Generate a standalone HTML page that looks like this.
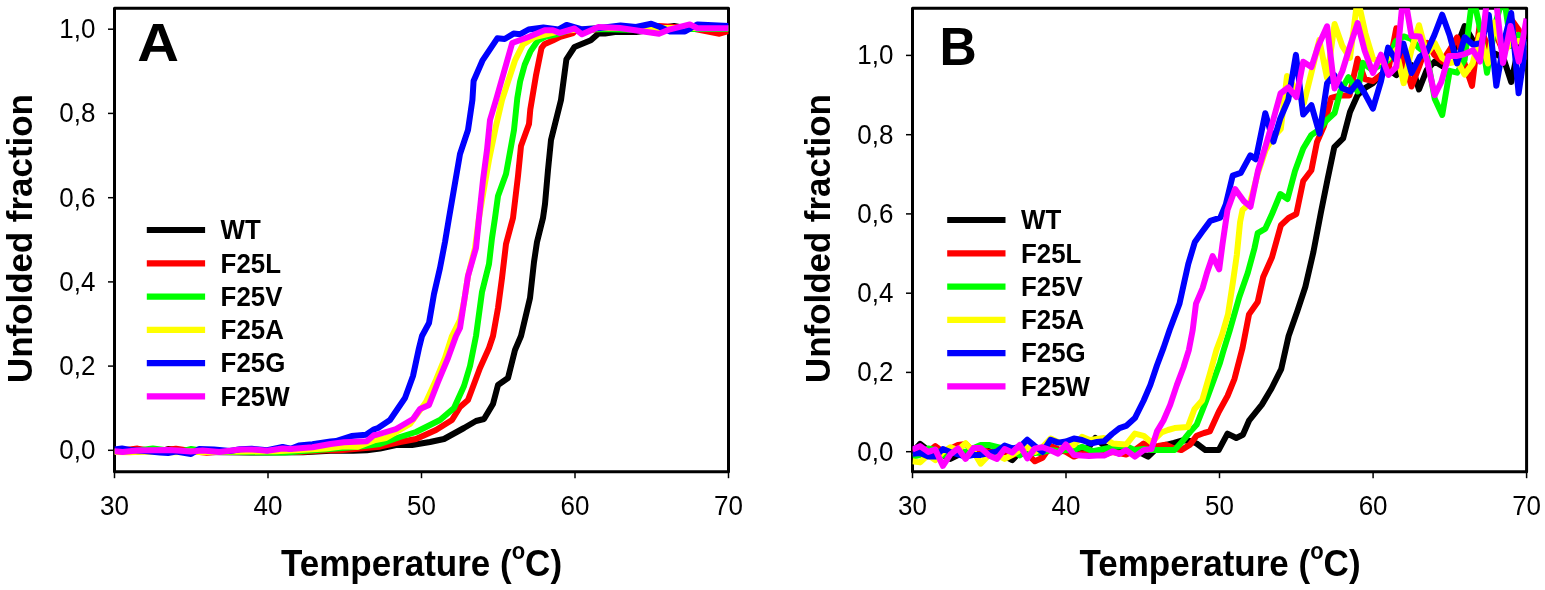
<!DOCTYPE html>
<html><head><meta charset="utf-8"><style>
html,body{margin:0;padding:0;background:#fff;}
svg{display:block;}
.tk{font-family:"Liberation Sans",Arial,sans-serif;font-size:26px;fill:#000;}
.lg{font-family:"Liberation Sans",Arial,sans-serif;font-size:25.5px;font-weight:bold;fill:#000;}
.lt{font-family:"Liberation Sans",Arial,sans-serif;font-size:54px;font-weight:bold;fill:#000;}
.ax{font-family:"Liberation Sans",Arial,sans-serif;font-size:35px;font-weight:bold;fill:#000;}
.sup{font-size:22px;}
.yl{font-size:34.5px;}
</style></head><body>
<svg width="1545" height="590" viewBox="0 0 1545 590">
<rect width="1545" height="590" fill="#fff"/>
<rect x="114.5" y="8.2" width="614.00" height="463.50" fill="none" stroke="#000" stroke-width="3" stroke-linejoin="round"/>
<line x1="108.0" y1="450.3" x2="114.5" y2="450.3" stroke="#000" stroke-width="1.5"/>
<text transform="translate(95.5,459.1) scale(1,1.05)" text-anchor="end" class="tk">0,0</text>
<line x1="108.0" y1="366.1" x2="114.5" y2="366.1" stroke="#000" stroke-width="1.5"/>
<text transform="translate(95.5,374.9) scale(1,1.05)" text-anchor="end" class="tk">0,2</text>
<line x1="108.0" y1="281.9" x2="114.5" y2="281.9" stroke="#000" stroke-width="1.5"/>
<text transform="translate(95.5,290.7) scale(1,1.05)" text-anchor="end" class="tk">0,4</text>
<line x1="108.0" y1="197.7" x2="114.5" y2="197.7" stroke="#000" stroke-width="1.5"/>
<text transform="translate(95.5,206.5) scale(1,1.05)" text-anchor="end" class="tk">0,6</text>
<line x1="108.0" y1="113.4" x2="114.5" y2="113.4" stroke="#000" stroke-width="1.5"/>
<text transform="translate(95.5,122.2) scale(1,1.05)" text-anchor="end" class="tk">0,8</text>
<line x1="108.0" y1="29.2" x2="114.5" y2="29.2" stroke="#000" stroke-width="1.5"/>
<text transform="translate(95.5,38.0) scale(1,1.05)" text-anchor="end" class="tk">1,0</text>
<line x1="114.5" y1="471.7" x2="114.5" y2="478.2" stroke="#000" stroke-width="1.5"/>
<text transform="translate(114.5,515.0) scale(1,1.05)" text-anchor="middle" class="tk">30</text>
<line x1="268.0" y1="471.7" x2="268.0" y2="478.2" stroke="#000" stroke-width="1.5"/>
<text transform="translate(268.0,515.0) scale(1,1.05)" text-anchor="middle" class="tk">40</text>
<line x1="421.5" y1="471.7" x2="421.5" y2="478.2" stroke="#000" stroke-width="1.5"/>
<text transform="translate(421.5,515.0) scale(1,1.05)" text-anchor="middle" class="tk">50</text>
<line x1="575.0" y1="471.7" x2="575.0" y2="478.2" stroke="#000" stroke-width="1.5"/>
<text transform="translate(575.0,515.0) scale(1,1.05)" text-anchor="middle" class="tk">60</text>
<line x1="728.5" y1="471.7" x2="728.5" y2="478.2" stroke="#000" stroke-width="1.5"/>
<text transform="translate(728.5,515.0) scale(1,1.05)" text-anchor="middle" class="tk">70</text>
<clipPath id="ca"><rect x="114.5" y="8.2" width="614.00" height="463.50"/></clipPath>
<g clip-path="url(#ca)" fill="none" stroke-width="6.0" stroke-linejoin="round">
<polyline stroke="#000000" points="114.5,452.0 137.5,451.5 145.2,451.0 160.5,451.5 168.2,449.0 183.6,451.5 206.6,452.0 250.0,452.5 303.0,452.2 330.6,450.8 353.0,450.8 366.8,450.3 380.0,448.5 396.0,445.0 412.0,445.0 430.0,442.0 444.0,439.0 464.0,428.0 476.0,421.0 484.0,419.0 493.0,404.0 498.0,385.0 508.0,378.0 515.0,350.0 521.0,336.0 530.0,298.0 534.0,262.0 537.0,242.0 543.0,218.0 545.0,204.0 548.0,170.0 551.0,140.0 557.0,116.0 561.0,100.0 566.4,59.3 574.5,47.0 590.8,40.3 598.5,33.5 605.0,33.5 615.0,32.0 636.0,32.0 650.0,30.0 674.0,26.0 690.0,29.0 710.0,28.0 728.5,29.3"/>
<polyline stroke="#ff0000" points="114.5,451.0 129.8,449.5 137.5,448.6 145.2,450.0 160.5,450.5 175.9,448.8 191.2,451.0 206.6,452.7 221.9,451.5 240.0,451.5 250.0,451.5 300.0,452.0 326.0,450.3 340.0,450.3 374.0,447.2 380.0,446.7 400.0,442.0 416.0,439.0 436.0,430.0 452.0,420.0 460.0,407.0 468.0,400.0 480.0,368.0 489.0,348.0 493.0,336.0 498.0,308.0 502.0,278.0 506.0,244.0 513.0,218.0 518.0,176.0 521.0,146.0 529.0,124.0 530.3,109.5 535.9,75.9 541.5,48.0 544.3,44.2 552.7,40.5 560.2,36.8 573.2,33.0 575.0,31.0 600.0,29.0 630.0,29.0 659.0,26.0 690.0,28.0 719.5,33.7 728.5,31.0"/>
<polyline stroke="#00ff00" points="114.5,451.5 137.5,450.5 152.9,448.6 168.2,450.5 183.6,451.0 191.2,449.0 206.6,451.5 222.0,452.0 240.0,452.0 267.0,452.6 285.0,452.6 336.0,448.5 357.8,446.7 380.0,444.0 400.0,437.0 416.0,432.0 440.0,420.0 454.0,408.0 464.0,386.0 470.0,366.0 476.0,336.0 482.0,292.0 489.0,264.0 492.0,238.0 495.0,218.0 498.0,196.0 506.0,174.0 514.0,130.0 517.3,98.3 520.1,81.5 524.7,64.7 530.3,51.7 537.8,40.5 545.2,36.8 554.6,34.9 570.0,30.0 600.0,29.0 640.0,30.0 680.0,29.0 728.5,29.0"/>
<polyline stroke="#ffff00" points="114.5,452.0 129.8,452.3 145.2,451.5 175.9,452.3 191.2,451.5 202.6,452.3 222.0,451.5 240.0,451.5 276.0,451.2 326.0,448.5 344.0,446.3 357.8,446.7 374.1,440.4 386.0,438.0 410.0,424.0 426.0,402.0 436.0,380.0 445.0,358.0 452.0,336.0 460.0,320.0 464.0,302.0 468.0,276.0 475.0,248.0 479.0,218.0 482.0,200.0 489.0,160.0 496.0,126.0 502.0,100.0 514.9,60.7 523.0,44.4 535.0,37.0 560.0,31.0 600.0,28.0 650.0,28.0 728.5,28.0"/>
<polyline stroke="#0000ff" points="114.5,449.5 122.0,448.5 130.0,450.0 145.0,451.0 160.0,452.5 168.0,453.0 176.0,451.5 191.0,454.0 199.0,449.0 214.0,449.5 230.0,451.0 240.0,449.3 251.8,448.8 267.2,450.2 282.6,447.0 290.7,448.8 298.9,445.6 312.5,444.3 330.6,441.4 336.0,441.1 351.5,436.1 366.0,434.8 374.1,429.3 378.0,428.0 390.0,420.0 405.0,398.0 413.0,376.0 419.0,348.0 422.0,336.0 429.0,323.0 434.0,294.0 440.0,268.0 445.0,242.0 449.0,218.0 460.0,154.0 468.0,130.0 472.4,100.0 473.6,81.0 482.4,60.7 497.3,38.3 504.7,39.0 513.6,33.6 520.3,34.2 528.5,29.5 543.4,27.5 558.3,29.5 566.6,24.9 582.0,29.3 600.0,28.0 620.5,25.5 636.0,27.0 651.3,23.8 660.0,27.0 670.0,31.5 685.0,31.5 697.5,24.4 728.5,26.0"/>
<polyline stroke="#ff00ff" points="114.5,451.2 122.6,451.9 136.9,450.4 152.1,450.2 168.9,450.0 177.3,450.4 190.8,451.6 202.6,450.6 219.4,451.9 240.0,449.4 251.8,449.4 267.2,450.8 282.6,448.5 290.7,449.0 312.5,447.2 330.6,444.0 344.0,442.2 366.8,441.3 374.1,434.9 376.0,435.0 396.0,429.0 413.0,419.0 420.0,409.0 429.0,405.0 438.0,382.0 448.0,358.0 456.0,336.0 460.0,328.0 464.0,302.0 468.0,276.0 476.0,248.0 479.0,218.0 483.0,180.0 487.0,150.0 490.0,120.0 496.0,100.0 512.2,43.0 528.5,37.0 544.7,30.2 552.9,30.2 559.7,32.9 574.6,28.5 582.0,34.3 598.5,27.1 620.0,28.0 643.6,31.5 659.0,33.7 670.0,29.3 689.8,24.4 697.5,28.2 728.5,28.2"/>
</g>
<text transform="translate(137.2,60.7) scale(1.07,1)" class="lt">A</text>
<line x1="146.8" y1="230.0" x2="205.1" y2="230.0" stroke="#000000" stroke-width="6.2"/>
<text transform="translate(220.6,239.3) scale(1.015,1.075)" class="lg">WT</text>
<line x1="146.8" y1="263.3" x2="205.1" y2="263.3" stroke="#ff0000" stroke-width="6.2"/>
<text transform="translate(220.6,272.6) scale(1.015,1.075)" class="lg">F25L</text>
<line x1="146.8" y1="296.6" x2="205.1" y2="296.6" stroke="#00ff00" stroke-width="6.2"/>
<text transform="translate(220.6,305.9) scale(1.015,1.075)" class="lg">F25V</text>
<line x1="146.8" y1="329.8" x2="205.1" y2="329.8" stroke="#ffff00" stroke-width="6.2"/>
<text transform="translate(220.6,339.1) scale(1.015,1.075)" class="lg">F25A</text>
<line x1="146.8" y1="363.1" x2="205.1" y2="363.1" stroke="#0000ff" stroke-width="6.2"/>
<text transform="translate(220.6,372.4) scale(1.015,1.075)" class="lg">F25G</text>
<line x1="146.8" y1="396.4" x2="205.1" y2="396.4" stroke="#ff00ff" stroke-width="6.2"/>
<text transform="translate(220.6,405.7) scale(1.015,1.075)" class="lg">F25W</text>
<rect x="912.5" y="8.2" width="614.10" height="463.50" fill="none" stroke="#000" stroke-width="3" stroke-linejoin="round"/>
<line x1="906.0" y1="451.7" x2="912.5" y2="451.7" stroke="#000" stroke-width="1.5"/>
<text transform="translate(893.5,460.5) scale(1,1.05)" text-anchor="end" class="tk">0,0</text>
<line x1="906.0" y1="372.4" x2="912.5" y2="372.4" stroke="#000" stroke-width="1.5"/>
<text transform="translate(893.5,381.2) scale(1,1.05)" text-anchor="end" class="tk">0,2</text>
<line x1="906.0" y1="293.2" x2="912.5" y2="293.2" stroke="#000" stroke-width="1.5"/>
<text transform="translate(893.5,302.0) scale(1,1.05)" text-anchor="end" class="tk">0,4</text>
<line x1="906.0" y1="213.9" x2="912.5" y2="213.9" stroke="#000" stroke-width="1.5"/>
<text transform="translate(893.5,222.7) scale(1,1.05)" text-anchor="end" class="tk">0,6</text>
<line x1="906.0" y1="134.7" x2="912.5" y2="134.7" stroke="#000" stroke-width="1.5"/>
<text transform="translate(893.5,143.5) scale(1,1.05)" text-anchor="end" class="tk">0,8</text>
<line x1="906.0" y1="55.4" x2="912.5" y2="55.4" stroke="#000" stroke-width="1.5"/>
<text transform="translate(893.5,64.2) scale(1,1.05)" text-anchor="end" class="tk">1,0</text>
<line x1="912.5" y1="471.7" x2="912.5" y2="478.2" stroke="#000" stroke-width="1.5"/>
<text transform="translate(912.5,515.0) scale(1,1.05)" text-anchor="middle" class="tk">30</text>
<line x1="1066.0" y1="471.7" x2="1066.0" y2="478.2" stroke="#000" stroke-width="1.5"/>
<text transform="translate(1066.0,515.0) scale(1,1.05)" text-anchor="middle" class="tk">40</text>
<line x1="1219.5" y1="471.7" x2="1219.5" y2="478.2" stroke="#000" stroke-width="1.5"/>
<text transform="translate(1219.5,515.0) scale(1,1.05)" text-anchor="middle" class="tk">50</text>
<line x1="1373.1" y1="471.7" x2="1373.1" y2="478.2" stroke="#000" stroke-width="1.5"/>
<text transform="translate(1373.1,515.0) scale(1,1.05)" text-anchor="middle" class="tk">60</text>
<line x1="1526.6" y1="471.7" x2="1526.6" y2="478.2" stroke="#000" stroke-width="1.5"/>
<text transform="translate(1526.6,515.0) scale(1,1.05)" text-anchor="middle" class="tk">70</text>
<clipPath id="cb"><rect x="912.5" y="8.2" width="614.10" height="463.50"/></clipPath>
<g clip-path="url(#cb)" fill="none" stroke-width="6.0" stroke-linejoin="round">
<polyline stroke="#000000" points="912.5,452.0 920.1,443.8 928.0,450.0 935.6,452.0 943.0,455.0 950.4,458.9 958.0,455.0 966.0,452.0 973.7,450.0 981.0,453.0 989.0,451.0 997.0,455.0 1004.6,456.0 1012.2,460.1 1020.0,452.0 1027.5,449.0 1035.0,451.0 1043.0,454.0 1050.6,449.0 1058.0,452.0 1066.0,450.0 1073.9,446.1 1081.6,451.0 1089.0,447.0 1095.3,438.0 1104.5,446.0 1112.0,450.0 1120.0,452.0 1127.5,449.0 1135.0,451.0 1143.0,454.0 1148.1,456.7 1158.0,447.0 1166.0,445.0 1174.0,443.0 1183.4,440.2 1190.0,441.0 1196.6,443.5 1205.4,450.1 1212.0,450.0 1218.7,450.1 1227.5,433.6 1236.3,438.0 1242.9,434.7 1249.0,420.7 1261.9,404.6 1271.5,388.5 1281.2,369.2 1288.6,336.0 1297.3,311.2 1305.3,287.0 1313.4,252.0 1321.0,212.0 1327.6,179.2 1334.3,147.2 1343.1,138.4 1350.0,112.0 1357.6,95.0 1365.0,88.0 1372.9,83.2 1380.7,75.0 1388.1,69.0 1396.3,75.1 1403.7,60.0 1411.4,65.0 1419.0,89.5 1426.7,70.0 1434.7,61.5 1442.0,66.0 1449.7,55.0 1457.4,45.0 1464.6,26.1 1472.7,40.0 1480.4,48.0 1488.1,52.0 1495.8,54.0 1503.4,58.0 1511.2,82.0 1518.8,47.0 1526.6,55.0"/>
<polyline stroke="#ff0000" points="912.5,452.0 920.0,448.0 928.0,452.0 935.3,446.1 943.0,452.0 950.0,449.0 958.0,445.0 966.0,444.0 973.7,452.0 981.0,450.0 989.0,452.0 997.0,453.0 1004.6,453.0 1012.0,455.0 1020.0,453.0 1027.5,454.0 1034.9,461.3 1042.5,457.8 1050.6,446.0 1058.0,449.0 1066.0,452.0 1073.9,456.6 1082.0,453.4 1090.0,455.0 1097.0,454.0 1104.0,455.0 1112.0,452.0 1119.0,453.0 1126.1,454.5 1135.0,450.0 1143.7,443.5 1150.0,447.0 1158.0,446.0 1165.8,444.6 1173.0,448.0 1181.2,450.1 1190.0,444.6 1196.6,435.8 1204.0,433.0 1209.8,431.4 1218.7,412.0 1227.5,396.0 1234.5,378.8 1242.5,348.0 1249.0,314.4 1257.7,302.0 1263.2,277.0 1272.0,257.3 1280.9,225.3 1288.6,218.0 1296.3,214.0 1303.2,181.0 1311.4,170.2 1317.0,142.0 1324.0,126.0 1331.2,98.0 1340.3,95.4 1349.5,95.4 1357.6,58.8 1364.7,79.1 1372.9,81.2 1380.7,75.0 1388.3,70.0 1396.3,28.3 1403.7,60.0 1411.5,86.5 1419.0,67.0 1427.3,42.9 1434.4,55.0 1442.2,61.5 1449.7,50.0 1457.1,37.3 1465.0,65.0 1472.0,85.8 1479.5,26.1 1488.0,47.0 1495.8,34.0 1503.4,52.0 1511.0,19.0 1518.8,30.0 1526.6,59.7"/>
<polyline stroke="#00ff00" points="912.5,456.6 920.0,455.0 928.3,448.4 935.5,450.0 942.9,455.4 950.4,450.0 958.0,451.0 966.0,452.0 973.7,448.0 980.7,445.0 988.9,445.0 997.0,447.0 1004.6,449.0 1012.2,450.0 1019.8,455.4 1027.5,450.0 1035.0,453.0 1042.5,452.0 1050.6,450.0 1058.0,451.0 1066.0,450.0 1074.0,450.0 1082.0,446.8 1093.0,451.2 1104.0,449.0 1115.1,446.8 1126.0,446.0 1134.9,450.1 1143.7,449.0 1151.0,450.0 1159.2,450.1 1166.8,450.0 1174.6,450.1 1183.4,440.2 1190.0,432.0 1196.6,424.8 1205.4,402.7 1214.3,378.5 1220.0,362.7 1223.1,352.0 1229.7,330.5 1239.3,297.0 1247.8,272.7 1254.4,248.5 1257.7,233.1 1265.4,228.6 1272.0,214.0 1280.3,194.0 1287.5,199.0 1295.0,171.0 1303.2,148.5 1311.4,134.9 1319.5,129.5 1327.0,120.0 1334.6,113.0 1340.3,91.4 1348.5,77.1 1357.6,91.4 1363.0,62.9 1372.0,70.0 1380.7,65.0 1388.3,60.0 1396.0,41.0 1403.7,36.4 1411.4,39.0 1419.0,48.0 1426.7,54.0 1434.7,98.8 1442.2,115.0 1449.7,70.8 1457.1,72.7 1464.6,60.0 1472.7,-5.0 1480.4,30.0 1487.0,72.7 1495.8,22.0 1503.7,-5.0 1511.0,46.0 1518.6,35.0 1526.6,50.0"/>
<polyline stroke="#ffff00" points="912.5,461.3 920.1,462.4 928.0,455.0 935.3,460.1 943.0,452.0 950.4,447.3 958.0,450.0 965.6,443.2 973.7,452.0 980.7,463.6 989.0,455.0 997.0,455.0 1004.6,458.9 1012.0,455.0 1020.0,450.0 1027.3,447.3 1035.0,452.0 1042.5,447.0 1050.6,438.5 1058.0,442.0 1066.0,447.0 1074.0,445.0 1082.0,436.9 1090.0,440.0 1097.0,439.0 1104.1,438.0 1112.9,443.5 1119.0,444.0 1126.1,444.6 1134.9,433.6 1143.7,435.8 1151.4,442.4 1161.4,432.5 1168.0,430.0 1174.6,428.1 1181.0,427.5 1187.8,427.0 1194.4,409.3 1202.1,400.5 1209.8,374.1 1216.5,349.8 1222.0,335.0 1228.0,314.4 1232.9,282.2 1236.8,255.1 1240.1,222.0 1242.5,210.0 1250.0,203.0 1257.9,173.0 1265.6,150.0 1273.2,137.0 1280.8,129.0 1287.0,76.0 1295.0,88.0 1303.9,103.0 1311.6,72.0 1319.3,40.0 1327.0,78.0 1334.6,24.0 1342.3,46.0 1350.0,57.8 1357.6,-2.0 1365.3,33.0 1373.0,58.8 1380.7,62.0 1388.3,58.0 1396.0,50.0 1403.7,83.2 1411.4,50.0 1419.0,25.2 1426.7,54.0 1434.7,42.9 1442.2,57.8 1449.7,63.0 1457.4,61.5 1464.6,74.6 1472.7,63.4 1479.5,35.4 1488.0,63.4 1494.4,22.4 1503.4,52.2 1511.0,43.0 1518.6,41.0 1526.6,45.0"/>
<polyline stroke="#0000ff" points="912.5,453.7 920.1,453.1 928.3,456.6 935.3,456.6 942.9,449.0 950.4,452.0 958.0,454.3 965.6,456.6 973.7,454.9 980.7,454.9 988.9,453.1 997.0,451.4 1004.6,445.5 1012.2,448.4 1019.8,447.0 1027.3,439.7 1034.9,446.1 1042.5,452.0 1050.6,439.7 1058.2,442.6 1065.8,441.5 1073.9,438.5 1082.0,440.0 1090.9,443.5 1097.0,442.0 1104.1,441.3 1112.0,434.0 1119.5,428.1 1126.1,425.9 1134.9,418.1 1143.7,400.5 1150.3,385.1 1157.0,365.3 1163.6,347.6 1169.6,330.0 1179.5,303.6 1183.9,283.7 1188.3,263.9 1194.9,241.9 1202.0,232.0 1210.3,220.9 1220.3,217.6 1225.8,204.4 1232.7,175.6 1240.8,172.9 1250.3,155.3 1255.8,159.3 1265.3,113.2 1273.4,141.7 1280.2,118.6 1288.3,99.7 1295.9,54.9 1303.2,114.6 1311.4,105.1 1319.5,133.6 1327.1,83.2 1334.2,75.1 1342.4,88.3 1350.5,91.4 1357.6,82.2 1364.7,93.4 1372.9,108.6 1381.0,81.2 1388.1,47.6 1396.3,60.8 1403.4,43.6 1411.5,73.0 1419.7,56.8 1426.7,52.0 1434.4,35.0 1442.2,14.7 1449.7,35.4 1457.1,63.4 1464.6,37.3 1473.0,44.7 1481.4,42.9 1488.8,14.9 1496.3,85.8 1503.7,42.9 1511.2,13.0 1518.6,93.2 1526.6,39.2"/>
<polyline stroke="#ff00ff" points="912.5,449.6 920.1,446.1 928.3,451.9 935.3,449.6 942.9,465.9 950.4,454.3 958.0,448.4 965.6,458.9 973.7,447.9 980.7,447.9 988.9,455.4 997.0,458.9 1004.6,449.0 1012.2,452.5 1019.8,445.0 1027.3,458.4 1034.9,448.4 1042.5,447.3 1050.6,450.2 1058.2,453.7 1065.8,444.4 1073.9,454.9 1081.6,455.6 1089.0,456.0 1097.0,455.6 1104.1,455.6 1112.9,451.2 1119.0,454.0 1126.1,450.1 1134.9,456.7 1143.7,450.1 1151.4,449.0 1157.0,431.4 1163.6,420.3 1170.2,404.9 1176.8,385.1 1183.4,367.5 1188.9,349.8 1192.7,330.0 1196.0,303.6 1202.6,288.1 1207.0,272.7 1212.6,256.2 1219.2,269.4 1222.5,244.1 1227.5,210.0 1235.1,189.1 1243.9,201.2 1250.5,206.7 1257.9,171.0 1265.6,146.0 1273.2,120.0 1280.5,93.5 1288.3,87.5 1296.4,97.0 1303.2,61.7 1311.4,67.1 1318.0,46.6 1327.1,26.3 1334.5,88.5 1342.4,71.0 1350.5,44.6 1357.6,23.2 1364.7,50.7 1372.9,73.0 1381.0,54.7 1388.5,75.0 1396.3,66.9 1403.7,-10.0 1411.5,36.0 1419.7,36.4 1427.3,61.5 1434.7,95.1 1441.3,82.0 1448.7,55.9 1457.1,55.9 1464.6,54.1 1473.0,50.3 1480.0,61.5 1488.0,-10.0 1495.5,-5.0 1503.0,63.0 1510.5,26.0 1518.8,61.5 1526.6,18.6"/>
</g>
<text transform="translate(939.4,65.1) scale(0.955,1)" class="lt">B</text>
<line x1="947.2" y1="220.0" x2="1005.5" y2="220.0" stroke="#000000" stroke-width="6.2"/>
<text transform="translate(1021.0,229.3) scale(1.015,1.075)" class="lg">WT</text>
<line x1="947.2" y1="253.3" x2="1005.5" y2="253.3" stroke="#ff0000" stroke-width="6.2"/>
<text transform="translate(1021.0,262.6) scale(1.015,1.075)" class="lg">F25L</text>
<line x1="947.2" y1="286.6" x2="1005.5" y2="286.6" stroke="#00ff00" stroke-width="6.2"/>
<text transform="translate(1021.0,295.9) scale(1.015,1.075)" class="lg">F25V</text>
<line x1="947.2" y1="319.8" x2="1005.5" y2="319.8" stroke="#ffff00" stroke-width="6.2"/>
<text transform="translate(1021.0,329.1) scale(1.015,1.075)" class="lg">F25A</text>
<line x1="947.2" y1="353.1" x2="1005.5" y2="353.1" stroke="#0000ff" stroke-width="6.2"/>
<text transform="translate(1021.0,362.4) scale(1.015,1.075)" class="lg">F25G</text>
<line x1="947.2" y1="386.4" x2="1005.5" y2="386.4" stroke="#ff00ff" stroke-width="6.2"/>
<text transform="translate(1021.0,395.7) scale(1.015,1.075)" class="lg">F25W</text>
<text class="ax yl" transform="translate(31.8,383.0) rotate(-90) scale(1.012,1)">Unfolded fraction</text>
<text class="ax yl" transform="translate(830.2,383.0) rotate(-90) scale(1.012,1)">Unfolded fraction</text>
<text class="ax" transform="translate(281,576.1) scale(1,1.06)">Temperature (<tspan class="sup" dy="-16.3">o</tspan><tspan dy="16.3">C)</tspan></text>
<text class="ax" transform="translate(1079.5,576.1) scale(1,1.06)">Temperature (<tspan class="sup" dy="-16.3">o</tspan><tspan dy="16.3">C)</tspan></text>
</svg>
</body></html>
